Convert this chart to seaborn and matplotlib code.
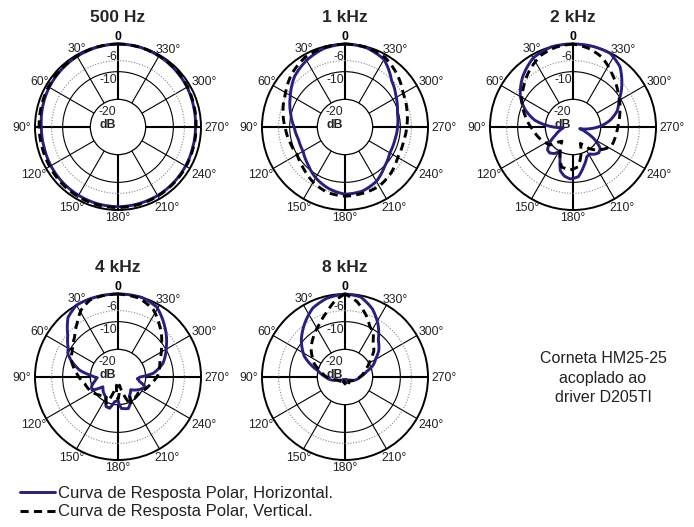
import numpy as np
import pandas as pd
import seaborn as sns
import matplotlib.pyplot as plt

# ---------------- data (dB relative, angle in degrees, CCW from front) ----------------
titles = ["500 Hz", "1 kHz", "2 kHz", "4 kHz", "8 kHz"]

ang_500_h = [0, 15, 30, 45, 60, 75, 90, 105, 120, 135, 150, 165, 180, 195, 210, 225, 240,
             255, 270, 285, 300, 315, 330, 345, 360]
db_500_h = [0, -0.2, -0.5, -0.9, -1.3, -1.8, -2.3, -2.3, -2.0, -1.7, -1.5, -1.3, -1.2, -1.3,
            -1.4, -1.6, -1.8, -2.0, -2.0, -1.7, -1.2, -0.8, -0.4, -0.1, 0]
ang_500_v = [0, 15, 30, 45, 60, 75, 90, 105, 120, 135, 150, 165, 180, 195, 210, 225, 240,
             255, 270, 285, 300, 315, 330, 345, 360]
db_500_v = [0, -0.1, -0.4, -0.7, -1.0, -1.3, -1.5, -1.6, -1.5, -1.2, -1.0, -0.9, -0.9, -1.0,
            -1.2, -1.4, -1.6, -1.8, -1.8, -1.5, -1.0, -0.6, -0.3, -0.1, 0]

ang_1k_h = [0, 15, 30, 45, 60, 75, 90, 105, 120, 135, 150, 165, 180, 195, 210, 225, 240,
            255, 270, 285, 300, 315, 330, 345, 360]
db_1k_h = [0, -0.6, -2.2, -4.2, -7.2, -9.6, -11.6, -12.6, -12.5, -11.0, -8.8, -7.0, -5.7,
           -6.0, -7.3, -9.8, -11.3, -11.4, -11.0, -10.4, -8.6, -6.2, -1.8, -0.3, 0]
ang_1k_v = [0, 15, 30, 45, 60, 75, 90, 105, 120, 135, 150, 165, 180, 195, 210, 225, 240,
            255, 270, 285, 300, 315, 330, 345, 360]
db_1k_v = [0, -0.3, -1.0, -2.8, -5.2, -6.8, -8.3, -9.3, -10.0, -8.8, -7.0, -5.5, -5.0,
           -5.2, -5.3, -6.5, -8.0, -8.2, -7.7, -6.8, -5.7, -3.3, -1.0, -0.2, 0]

ang_2k_h = [0, 15, 30, 45, 60, 70, 80, 88, 95, 105, 115, 125, 132, 138, 145, 152, 158, 164,
            170, 177, 186, 195, 205, 212, 218, 225, 232, 240, 248, 256, 264, 272, 280, 290,
            300, 310, 322, 333, 346, 360]
db_2k_h = [0, 0, -1.2, -4.3, -8.0, -11.6, -16.0, -21.5, -26.5, -25.0, -23.0, -19.5, -17.6,
           -17.4, -18.3, -20.2, -17.5, -13.5, -12.0, -11.2, -11.9, -15.2, -18.2, -18.5, -17.5,
           -16.8, -17.5, -21.0, -25.0, -27.5, -24.0, -20.0, -16.5, -13.0, -10.8, -7.0, -2.4,
           -0.2, 0, 0]
ang_2k_v = [0, 12, 24, 40, 50, 62, 78, 94, 111, 128, 136, 142, 148, 155, 164, 176, 187, 197,
            204, 210, 216, 222, 231, 243, 262, 275, 286, 297, 307, 316, 324, 338, 349, 360]
db_2k_v = [0, -0.5, -1.6, -4.7, -6.8, -9.0, -12.5, -15.5, -17.5, -19.5, -22.5, -23.5, -21.5,
           -18.8, -15.0, -14.4, -15.5, -20.0, -23.5, -22.5, -20.5, -19.0, -17.0, -14.5, -14.2,
           -13.5, -12.4, -11.0, -9.6, -7.8, -6.1, -2.6, -1.0, 0]

ang_4k_h = [0, 15, 30, 40, 50, 60, 65, 70, 80, 86, 92, 100, 110, 117, 123, 135, 149, 158,
            165, 172, 180, 186, 198, 205, 211, 225, 240, 250, 258, 265, 270, 276, 287, 302,
            317, 331, 343, 360]
db_4k_h = [0, 0, 0, -1.9, -6.3, -9.2, -10.0, -11.8, -16.0, -19.8, -22.5, -21.5, -19.8, -19.5,
           -23.5, -22.5, -21.5, -18.5, -18.3, -21.0, -21.5, -18.6, -18.0, -19.5, -22.0, -23.5,
           -21.0, -19.5, -22.0, -23.0, -22.0, -17.2, -13.0, -9.4, -5.2, -1.1, 0, 0]
ang_4k_v = [0, 10, 20, 29, 37, 47, 59, 70, 85, 101, 119, 135, 148, 156, 163, 170, 180, 190,
            197, 205, 212, 218, 231, 256, 273, 292, 305, 320, 332, 345, 360]
db_4k_v = [0, -0.1, -0.4, -2.4, -5.5, -8.6, -10.8, -12.0, -15.0, -17.7, -19.0, -20.7, -22.0,
           -19.6, -23.8, -27.0, -22.0, -27.0, -23.8, -18.8, -22.0, -20.2, -20.7, -18.2, -15.5,
           -13.7, -10.8, -6.4, -2.6, -0.5, 0]

ang_8k_h = [0, 13, 25, 37, 50, 63, 70, 77, 90, 100, 110, 120, 135, 150, 165, 180, 195, 210,
            225, 240, 250, 260, 270, 284, 293, 301, 308, 318, 328, 338, 349, 360]
db_8k_h = [0, -0.8, -2.5, -5.8, -9.4, -13.5, -16.8, -20.0, -23.0, -24.5, -26.5, -27.8, -28.5,
           -29.0, -29.0, -28.5, -29.0, -29.0, -28.5, -27.8, -26.5, -25.5, -24.6, -22.0, -18.9,
           -17.0, -14.5, -12.0, -7.5, -3.5, -0.5, 0]
ang_8k_v = [0, 7, 14, 25, 38, 50, 60, 67, 75, 90, 100, 110, 125, 140, 155, 170, 180, 190,
            205, 220, 235, 250, 260, 270, 289, 304, 312, 322, 327, 334, 340, 351, 360]
db_8k_v = [0, -2.0, -5.0, -8.6, -11.5, -14.0, -16.5, -18.0, -20.6, -23.4, -25.5, -27.0,
           -27.5, -28.0, -27.0, -28.5, -27.5, -28.5, -27.0, -28.0, -27.5, -26.5, -25.5, -24.6,
           -22.3, -19.0, -16.0, -13.5, -11.2, -9.6, -6.9, -2.4, 0]

horizontal = [(ang_500_h, db_500_h), (ang_1k_h, db_1k_h), (ang_2k_h, db_2k_h),
              (ang_4k_h, db_4k_h), (ang_8k_h, db_8k_h)]
vertical = [(ang_500_v, db_500_v), (ang_1k_v, db_1k_v), (ang_2k_v, db_2k_v),
            (ang_4k_v, db_4k_v), (ang_8k_v, db_8k_v)]

theta_ticks = list(range(0, 360, 30))
theta_labels = ["0", "30°", "60°", "90°", "120°", "150°", "180°", "210°", "240°", "270°",
                "300°", "330°"]
ring_levels = [-10, -6]
ring_labels = ["-6", "-10", "-20", "dB"]
legend_labels = ["Curva de Resposta Polar, Horizontal.", "Curva de Resposta Polar, Vertical."]
note_text = "Corneta HM25-25\nacoplado ao\ndriver D205TI"

# ---------------- style ----------------
sns.set_style("white")
plt.rcParams["font.family"] = ["Liberation Sans", "DejaVu Sans"]

BLUE = "#27207f"
TXT = "#222222"
W, H = 694, 527
R = 83
centers = [(118, 127), (345, 127), (573, 127), (118, 377), (345, 377)]

# label centres around each dial (pixel offsets from the dial centre, y downward)
theta_label_pos = [(0, -90), (-41, -78), (-78, -45), (-96, 1), (-84, 48), (-46, 81),
                   (0, 91), (49, 81), (86, 48), (99, 1), (86, -45), (50, -77)]
ring_label_pos = [(-6, 70), (-10, 47), (-11, 15), (-10, 2)]

fig = plt.figure(figsize=(W / 100, H / 100), dpi=100)
handles = None
for i, (cx, cy) in enumerate(centers):
    ax = fig.add_axes([(cx - R) / W, 1 - (cy + R) / H, 2 * R / W, 2 * R / H],
                      projection="polar")
    ax.set_theta_zero_location("N")
    ax.set_theta_direction(1)

    ah, dh = horizontal[i]
    av, dv = vertical[i]
    dfh = pd.DataFrame({"theta": np.deg2rad(ah), "db": dh})
    dfv = pd.DataFrame({"theta": np.deg2rad(av), "db": dv})
    sns.lineplot(data=dfh, x="theta", y="db", ax=ax, color=BLUE, lw=2.1, sort=False,
                 estimator=None, clip_on=False, zorder=5)
    sns.lineplot(data=dfv, x="theta", y="db", ax=ax, color="black", lw=2.1, sort=False,
                 estimator=None, clip_on=False, zorder=6, linestyle=(0, (2.8, 1.8)))
    for ln in ax.get_lines():
        # draw each segment along the polar grid (curved), not as a straight chord
        ln._path._interpolation_steps = 24
    if handles is None:
        handles = ax.get_lines()[:2]

    ax.set_xlim(0, 2 * np.pi)
    ax.set_ylim(-20, 0)
    ax.set_rorigin(-30)
    ax.set_xlabel("")
    ax.set_ylabel("")

    ax.set_rgrids(ring_levels, labels=["", ""])
    gl = ax.yaxis.get_gridlines()
    gl[0].set(color="black", lw=0.8, linestyle="-")
    gl[1].set(color="#888888", lw=0.8, linestyle=(0, (1, 1.5)))

    ax.set_thetagrids(theta_ticks, labels=[""] * len(theta_ticks))
    for k, g in enumerate(ax.xaxis.get_gridlines()):
        g.set(color="black", linestyle="-", lw=1.5 if k % 3 == 0 else 0.8)

    ax.spines["polar"].set(color="black", lw=1.4)
    ax.spines["inner"].set(color="black", lw=0.9)
    ax.grid(True)

    for txt, (dx, dy) in zip(theta_labels, theta_label_pos):
        bold = txt == "0"
        ax.text(0.5 + dx / (2 * R), 0.5 - dy / (2 * R), txt, transform=ax.transAxes,
                ha="center", va="center", fontsize=8.8, color="black" if bold else TXT,
                fontweight="bold" if bold else "normal", clip_on=False)

    for txt, (dx, dy) in zip(ring_labels, ring_label_pos):
        ax.text(0.5 + dx / (2 * R), 0.5 + dy / (2 * R), txt, transform=ax.transAxes,
                ha="center", va="center", fontsize=8.8, color=TXT,
                fontweight="bold" if txt == "dB" else "normal", zorder=4)

    fig.text(cx / W, 1 - 18 / H if i < 3 else 1 - 268 / H, titles[i], ha="center",
             va="center", fontsize=12.5, fontweight="bold")

fig.text(603 / W, 1 - 378 / H, note_text, ha="center", va="center", fontsize=11.5,
         multialignment="center", linespacing=1.38, color=TXT)

fig.legend(handles=handles, labels=legend_labels, loc="upper left",
           bbox_to_anchor=(20 / W, 1 - 486 / H), frameon=False, fontsize=12,
           handlelength=2.1, handletextpad=0.2, labelspacing=0.2, borderpad=0,
           borderaxespad=0, labelcolor=TXT)

fig.savefig("out.png", dpi=100)
